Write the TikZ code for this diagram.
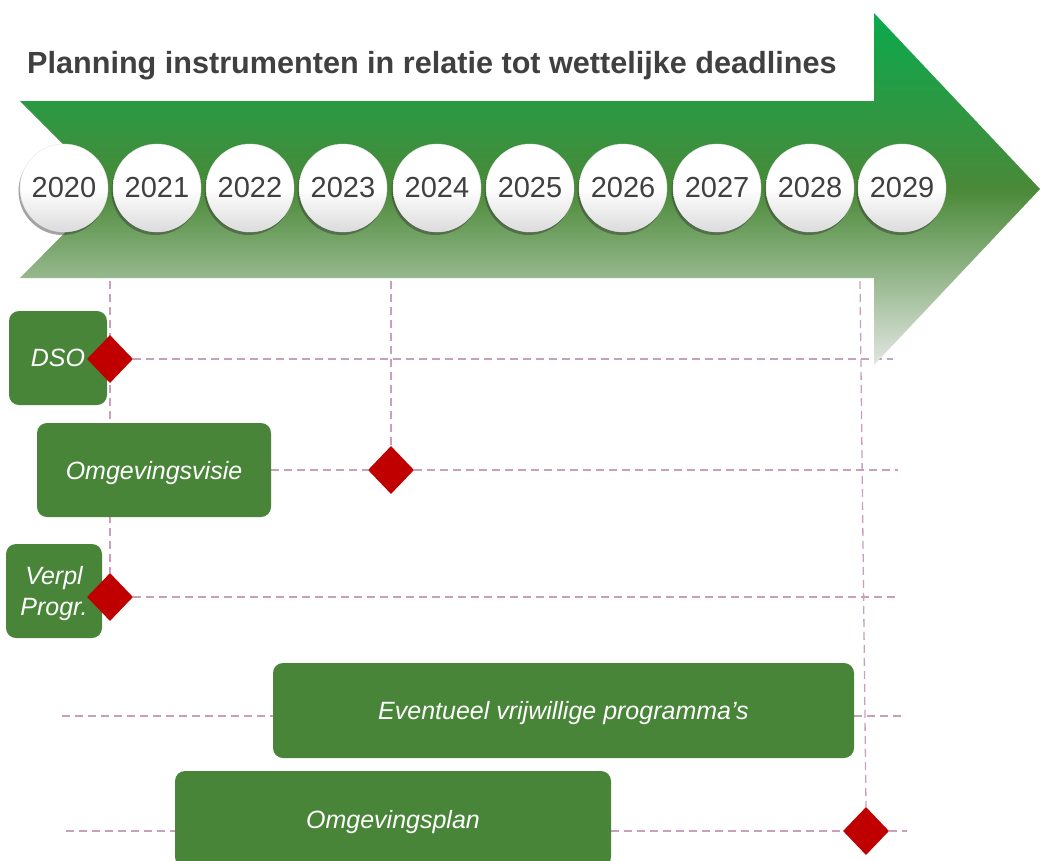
\documentclass[tikz,border=0pt]{standalone}
\usepackage{fontspec}
\setmainfont{Liberation Sans}
\usetikzlibrary{shapes.geometric,shadows,backgrounds}
\definecolor{boxgreen}{RGB}{73,133,57}
\definecolor{dred}{RGB}{192,0,0}
\definecolor{dashc}{RGB}{200,160,188}
\definecolor{txtgray}{RGB}{64,64,64}
\definecolor{artop}{RGB}{10,170,78}
\definecolor{armid}{RGB}{74,137,56}
\definecolor{arbot}{RGB}{226,230,226}
\tikzset{
  yearball/.style={circle, minimum size=88pt, inner sep=0pt, shading=axis,
    top color=white, bottom color=black!14, middle color=white,
    draw=black!10, line width=0.4pt,
    drop shadow={shadow xshift=-1.5pt, shadow yshift=-3pt, opacity=0.45, fill=black!80},
    text=txtgray, font=\fontsize{29}{32}\selectfont},
  planbox/.style={rectangle, rounded corners=10pt, fill=boxgreen, inner sep=0pt,
    text=white, align=center, text depth=0pt, font=\fontsize{25}{31}\selectfont\itshape},
  deadline/.style={diamond, fill=dred, minimum width=46pt, minimum height=48pt, inner sep=0pt},
  dl/.style={draw=dashc, line width=1.3pt, dash pattern=on 8pt off 5pt}
}
\begin{document}
\begin{tikzpicture}[x=1pt,y=-1pt]
\useasboundingbox (0,0) rectangle (1040,860);
% big arrow
\path[shading=axis, top color=artop, bottom color=arbot, middle color=armid]
  (20,101) -- (874,101) -- (874,13) -- (1040,189) -- (874,365) -- (874,278)
  -- (20,278) -- (108,189) -- cycle;
% title
\node[anchor=base west, inner sep=0pt, text=txtgray,
  font=\fontsize{30.6}{33}\selectfont\bfseries] (title) at (27,73)
  {Planning instrumenten in relatie tot wettelijke deadlines};
% years
\foreach \xx/\yr in {64/2020,157/2021,250/2022,343/2023,437/2024,530/2025,623/2026,717/2027,810/2028,902/2029}
  \node[yearball] (y\yr) at (\xx,188) {\yr};
% boxes
\node[planbox, minimum width=98pt, minimum height=94pt] (dso) at (58,358) {DSO};
\node[planbox, minimum width=234pt, minimum height=94pt] (ov) at (154,470) {Omgevingsvisie};
\node[planbox, minimum width=96pt, minimum height=94pt] (vp) at (54,591) {Verpl\\Progr.};
\node[planbox, minimum width=581pt, minimum height=95pt] (ev) at (563.5,710.5) {Eventueel vrijwillige programma’s};
\node[planbox, minimum width=436pt, minimum height=96pt] (op) at (393,819) {Omgevingsplan};
% deadlines
\node[deadline] (d1) at (110,359) {};
\node[deadline] (d2) at (391,470) {};
\node[deadline] (d3) at (110,597) {};
\node[deadline] (d4) at (866,831) {};
% free ends
\coordinate (v1) at (110,281);
\coordinate (v2) at (391,281);
\coordinate (v3) at (860,281);
\coordinate (e1) at (893,359);
\coordinate (e2) at (898,470);
\coordinate (e3) at (900,597);
\coordinate (e4l) at (62,716);
\coordinate (e4r) at (903,716);
\coordinate (e5l) at (66,831);
\coordinate (e5r) at (907,831);
\begin{pgfonlayer}{background}
\draw[dl] (v1) -- (d3.north);
\draw[dl] (v2) -- (d2.north);
\draw[dl] (v3) -- (d4.north);
\draw[dl] (d1.east) -- (e1);
\draw[dl] (ov.east) -- (d2.west);
\draw[dl] (d2.east) -- (e2);
\draw[dl] (d3.east) -- (e3);
\draw[dl] (e4l) -- (e4l -| ev.west);
\draw[dl] (e4r -| ev.east) -- (e4r);
\draw[dl] (e5l) -- (e5l -| op.west);
\draw[dl] (d4.west -| op.east) -- (d4.west);
\draw[dl] (d4.east) -- (e5r);
\end{pgfonlayer}
\end{tikzpicture}
\end{document}
